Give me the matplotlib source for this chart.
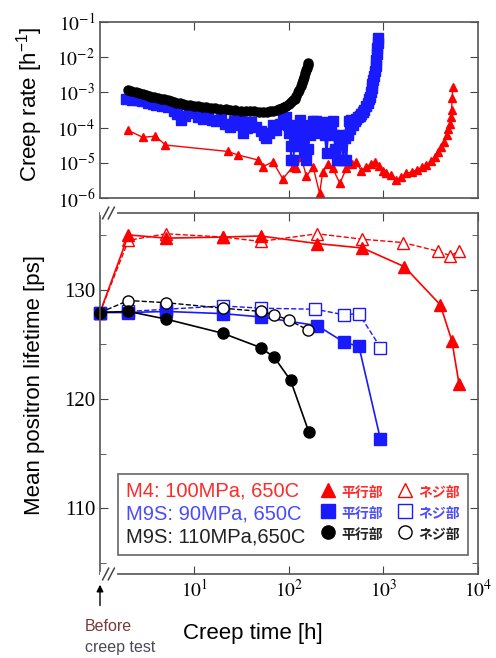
import numpy as np
import matplotlib
matplotlib.use("Agg")
from matplotlib import pyplot as plt
from matplotlib.lines import Line2D
from matplotlib.ticker import FuncFormatter, MultipleLocator, NullLocator
from matplotlib.font_manager import FontProperties

plt.rcParams['font.family'] = ['Liberation Sans', 'Noto Sans CJK JP', 'DejaVu Sans']
plt.rcParams['mathtext.fontset'] = 'stix'

# creep rate curves (top panel)
m4_rate_t = [1.96, 2.83, 3.86, 4.93, 22.5, 28.8, 47, 53, 67.5, 86, 110, 120, 134, 153,
             180, 211, 228, 260, 291, 345, 405, 460, 516, 580, 660, 730, 810, 900, 980,
             1070, 1200, 1360, 1550, 1750, 2000, 2250, 2550, 2850, 3200, 3500, 3800,
             4100, 4400, 4650, 4850, 5050, 5150, 5250, 5350, 5400]
m4_rate = [8.5e-5, 5.3e-5, 5.7e-5, 3.2e-5, 2.1e-5, 1.67e-5, 1.2e-5, 7.7e-6, 1.07e-5,
           3.5e-6, 7.7e-6, 6.9e-6, 1.5e-5, 4.1e-6, 7.7e-6, 1.35e-6, 5.6e-6, 9e-6, 6.9e-6,
           2.6e-6, 6.9e-6, 9e-6, 1.07e-5, 6e-6, 7.7e-6, 9e-6, 1.07e-5, 8e-6, 6e-6, 5e-6,
           4.5e-6, 3.2e-6, 4e-6, 5e-6, 5.5e-6, 6.3e-6, 7.5e-6, 8.7e-6, 1.1e-5, 1.5e-5,
           2e-5, 2.9e-5, 4e-5, 6.2e-5, 9e-5, 1.3e-4, 2e-4, 3.2e-4, 7e-4, 1.45e-3]

m9s90_rate_t = [1.9, 2.2, 2.5, 2.8, 3.2, 3.6, 3.9, 4.5, 5.2, 6.0, 6.6, 7.2, 8.0, 8.8, 9.6,
                11, 12.3, 14, 15.5, 16.9, 19, 21, 23.5, 26, 28, 30, 31, 32.5, 36, 40, 45,
                50, 54, 57.5, 62, 67, 73, 80, 87, 94, 98, 101, 104, 106, 110, 115, 120,
                125, 130, 135, 140, 146, 153, 160, 165, 172, 180, 188, 195, 203, 211, 220,
                230, 240, 250, 260, 270, 280, 291, 300, 310, 320, 335, 345, 360, 375, 390,
                405, 418, 430, 443, 457, 477, 497, 517, 537, 558, 580, 605, 630, 655, 680,
                700, 715, 733, 750, 765, 780, 795, 810, 825, 840, 850, 860, 866, 870]
m9s90_rate = [6.3e-4, 6.0e-4, 6.1e-4, 5.8e-4, 5.0e-4, 4.6e-4, 4.4e-4, 4.0e-4, 3.8e-4,
              3.0e-4, 2.4e-4, 1.65e-4, 2.2e-4, 2.7e-4, 2.6e-4, 2.0e-4, 1.8e-4, 2.1e-4,
              1.6e-4, 1.5e-4, 1.9e-4, 1.3e-4, 1.07e-4, 1.5e-4, 1.9e-4, 2.0e-4, 1.2e-4,
              6.9e-5, 1.0e-4, 1.4e-4, 1.07e-4, 8e-5, 6e-5, 5e-5, 7e-5, 1.2e-4, 8.5e-5,
              1.3e-4, 1.7e-4, 2.0e-4, 1.2e-4, 6.9e-5, 3e-5, 1.2e-5, 1.2e-5, 3e-5, 6e-5,
              1.2e-4, 1.65e-4, 8e-5, 4e-5, 2e-5, 1.2e-5, 2.5e-5, 6e-5, 1.2e-4, 1.5e-4,
              1.0e-4, 1.5e-4, 8e-5, 1.4e-4, 7e-5, 1.3e-4, 6e-5, 1.9e-5, 7e-5, 1.4e-4,
              9e-5, 1.5e-4, 6e-5, 2.5e-5, 1.2e-5, 4e-5, 1.2e-5, 6e-5, 1.2e-5, 5e-5, 1.2e-5,
              6e-5, 1.5e-4, 9e-5, 1.6e-4, 1.2e-4, 1.5e-4, 1.7e-4, 2e-4, 2.2e-4, 2.5e-4,
              2.8e-4, 3.2e-4, 4e-4, 5e-4, 6.3e-4, 7.6e-4, 1.0e-3, 1.3e-3, 1.7e-3, 2.2e-3,
              3e-3, 4e-3, 5.8e-3, 8.3e-3, 1.2e-2, 1.8e-2, 2.5e-2, 3.4e-2]

m9s110_rate_t = [1.96, 2.15, 2.4, 2.6, 2.83, 3.05, 3.3, 3.5, 3.77, 4.1, 4.4, 4.8, 5.2, 5.6,
                 6.0, 6.4, 7.0, 7.6, 8.2, 8.9, 9.8, 11, 12, 13.3, 14.8, 16.5, 18.5, 21.7,
                 24, 27, 31, 35, 39, 43, 48, 53, 58, 63, 68, 74, 79, 84, 89, 94, 99, 105,
                 110, 115, 120, 125, 129, 133, 137, 141, 144, 148, 151, 155, 158, 160]
m9s110_rate = [1.17e-3, 1.08e-3, 1.0e-3, 9.4e-4, 8.9e-4, 8.4e-4, 8e-4, 7.6e-4, 7.2e-4,
               6.8e-4, 6.5e-4, 6.3e-4, 6.0e-4, 5.7e-4, 5.4e-4, 5.1e-4, 4.9e-4, 4.7e-4,
               4.5e-4, 4.4e-4, 4.2e-4, 4.1e-4, 3.9e-4, 3.8e-4, 3.7e-4, 3.6e-4, 3.45e-4,
               3.3e-4, 3.2e-4, 3.1e-4, 3.05e-4, 3.0e-4, 2.95e-4, 2.9e-4, 2.85e-4, 2.8e-4,
               2.85e-4, 2.9e-4, 3.0e-4, 3.1e-4, 3.3e-4, 3.5e-4, 3.8e-4, 4.1e-4, 4.6e-4,
               5.2e-4, 5.9e-4, 6.7e-4, 8e-4, 1.0e-3, 1.2e-3, 1.5e-3, 1.9e-3, 2.3e-3,
               2.8e-3, 3.5e-3, 4.2e-3, 5e-3, 5.9e-3, 6.7e-3]

# positron lifetime (bottom panel), t=1 is "before creep test"
m4_par_t = [1, 2, 5, 20, 50, 200, 600, 1660, 4000, 5300, 6300]
m4_par = [127.9, 135.0, 134.7, 134.8, 134.9, 134.2, 133.8, 132.1, 128.6, 125.3, 121.4]
m4_thr_t = [1, 2, 5, 20, 50, 200, 600, 1600, 3800, 5100, 6300]
m4_thr = [127.9, 134.5, 135.1, 134.8, 134.4, 135.1, 134.6, 134.3, 133.5, 133.1, 133.5]

m9s90_par_t = [1, 2, 5, 20, 50, 200, 380, 550, 930]
m9s90_par = [127.9, 127.9, 128.0, 127.8, 127.5, 126.7, 125.2, 124.8, 116.3]
m9s90_thr_t = [1, 2, 5, 20, 50, 190, 380, 550, 930]
m9s90_thr = [127.9, 128.0, 128.2, 128.5, 128.3, 128.2, 127.7, 127.8, 124.7]

m9s110_par_t = [1, 2, 5, 20, 50, 70, 104, 162]
m9s110_par = [127.9, 128.0, 127.3, 126.0, 124.7, 123.8, 121.7, 117.0]
m9s110_thr_t = [1, 2, 5, 20, 50, 70, 100, 160]
m9s110_thr = [127.9, 129.0, 128.8, 128.3, 128.0, 127.7, 127.2, 126.3]

labels = ['M4: 100MPa, 650C', 'M9S: 90MPa, 650C', 'M9S: 110MPa,650C']
colors = ['#ff0000', '#1a1aff', '#000000']
text_colors = ['#ff2a2a', '#4a4aff', '#222222']
markers = ['^', 's', 'o']

fig = plt.figure(figsize=(4.96, 6.58), dpi=100)
ax1 = fig.add_axes([0.2016, 0.6991, 0.762, 0.2675])
ax2 = fig.add_axes([0.2016, 0.1277, 0.762, 0.5486])

# top panel
ax1.plot(m4_rate_t, m4_rate, '-^', color=colors[0], ms=5.5, lw=1)
ax1.plot(m9s90_rate_t, m9s90_rate, '-s', color=colors[1], ms=7, lw=1.5)
ax1.plot(m9s110_rate_t, m9s110_rate, '-o', color=colors[2], ms=6.5, lw=1)
ax1.set_xscale('log')
ax1.set_yscale('log')
ax1.set_xlim(1, 1e4)
ax1.set_ylim(1e-6, 1e-1)
ax1.set_xticks([10, 100, 1000])
ax1.set_xticklabels([])
ax1.set_yticks([1e-6, 1e-5, 1e-4, 1e-3, 1e-2, 1e-1])
ax1.yaxis.set_major_formatter(FuncFormatter(lambda v, p: r'$10^{%d}$' % round(np.log10(v))))
ax1.xaxis.set_minor_locator(NullLocator())
ax1.yaxis.set_minor_locator(NullLocator())
ax1.set_ylabel(r'Creep rate [h$\mathregular{^{-1}}$]', fontsize=16)
ax1.yaxis.set_label_coords(-0.145, 0.53)

# bottom panel
for i, (tt, yy, tp, yp) in enumerate([(m4_thr_t, m4_thr, m4_par_t, m4_par),
                                      (m9s90_thr_t, m9s90_thr, m9s90_par_t, m9s90_par),
                                      (m9s110_thr_t, m9s110_thr, m9s110_par_t, m9s110_par)]):
    ax2.plot(tt, yy, '--', marker=markers[i], color=colors[i], mfc='white', mec=colors[i],
             ms=8, lw=1, mew=1, clip_on=False)
    ax2.plot(tp, yp, '-', marker=markers[i], color=colors[i], ms=8, lw=1.2, clip_on=False)

ax2.set_xscale('log')
ax2.set_xlim(1, 1e4)
ax2.set_ylim(104, 137)
ax2.set_xticks([10, 100, 1000, 10000])
ax2.xaxis.set_major_formatter(FuncFormatter(lambda v, p: r'$10^{%d}$' % round(np.log10(v))))
ax2.xaxis.set_minor_locator(NullLocator())
ax2.yaxis.set_major_locator(MultipleLocator(10))
ax2.yaxis.set_minor_locator(MultipleLocator(5))
ax2.set_ylabel('Mean positron lifetime [ps]', fontsize=16)
ax2.yaxis.set_label_coords(-0.145, 0.524)
ax2.set_xlabel('Creep time [h]', fontsize=16)
ax2.xaxis.set_label_coords(0.405, -0.135)

for ax in (ax1, ax2):
    ax.tick_params(which='both', direction='in', top=True, right=True, labelsize=14,
                   color='#444444')
    ax.tick_params(which='major', length=6)
    ax.tick_params(which='minor', length=4)
    for sp in ax.spines.values():
        sp.set_color('#555555')
        sp.set_linewidth(1.2)
for lab in ax2.get_yticklabels():
    lab.set_fontfamily('Liberation Serif')
    lab.set_fontsize(15)

# axis break marks at the left corners of the lower panel
for yb in (0, 1):
    ax2.plot([0.005, 0.04], [yb, yb], transform=ax2.transAxes, color='white', lw=3,
             clip_on=False, zorder=5)
    for xb in (0.015, 0.03):
        ax2.plot([xb - 0.008, xb + 0.008], [yb - 0.016, yb + 0.016], transform=ax2.transAxes,
                 color='#444444', lw=1.1, clip_on=False, zorder=6)

# arrow for the "before creep test" point
ax2.annotate('', xy=(1, -0.022), xytext=(1, -0.095),
             xycoords=('data', 'axes fraction'), textcoords=('data', 'axes fraction'),
             arrowprops=dict(arrowstyle='-|>', color='black', lw=1, mutation_scale=10))
fig.text(0.171, 0.048, 'Before', color='#7a3a3a', fontsize=11.5, va='center')
fig.text(0.171, 0.016, 'creep test', color='#4a4a55', fontsize=11.5, va='center')

# legend: [label] [filled] 平行部 [open] ネジ部
fs = 14.5
hl = 0.7
blank = Line2D([], [], linestyle='none')
handles = [blank, blank, blank]
handles += [Line2D([], [], linestyle='none', marker=markers[i], color=colors[i], ms=9.5)
            for i in range(3)]
handles += [Line2D([], [], linestyle='none', marker=markers[i], mfc='white', mec=colors[i],
                    ms=9.5, mew=1) for i in range(3)]
leg_labels = labels + ['平行部'] * 3 + ['ネジ部'] * 3
leg = ax2.legend(handles, leg_labels, ncol=3, loc='lower left',
                 bbox_to_anchor=(0.048, 0.053, 0.926, 0.221), mode='expand',
                 borderaxespad=0, handlelength=hl, handletextpad=0.3, columnspacing=0.4,
                 labelspacing=0.2, fancybox=False, framealpha=1, edgecolor='#666666',
                 borderpad=0.4, fontsize=fs)
leg.get_frame().set_linewidth(1.2)
# first column has no marker: let its text start where the empty handle is
for hp in leg._legend_handle_box.get_children()[0].get_children():
    hp.sep = -hl * fs
jp = FontProperties(family='Noto Sans CJK JP', size=10, weight='bold')
for k, t in enumerate(leg.get_texts()):
    t.set_color(text_colors[k % 3])
    if k >= 3:
        t.set_fontproperties(jp)

fig.savefig('out.png', dpi=100)
